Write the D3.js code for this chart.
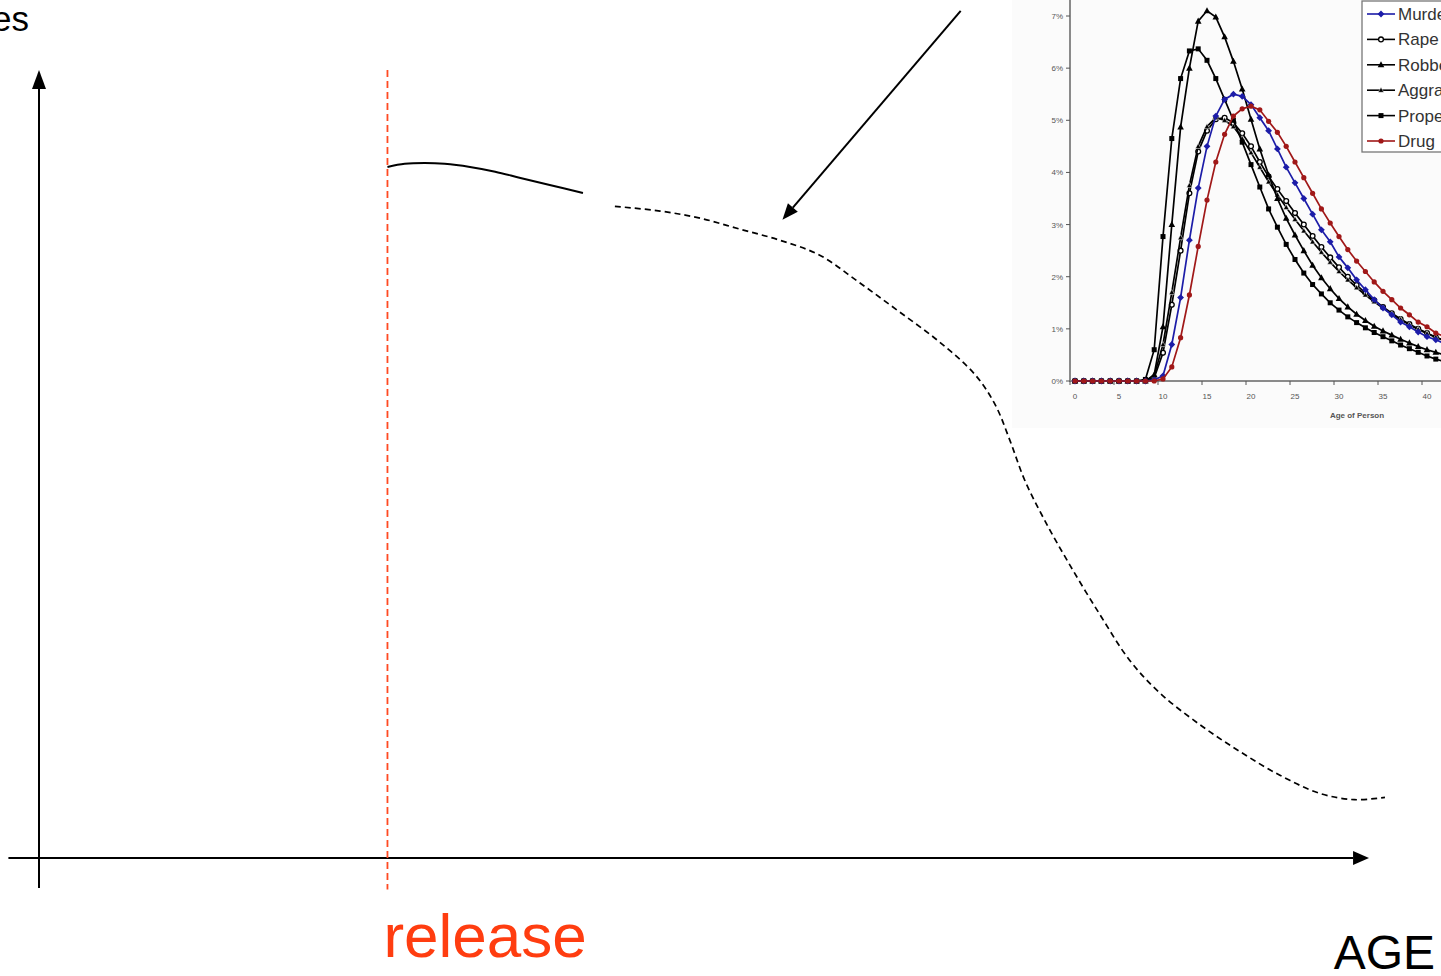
<!DOCTYPE html>
<html><head><meta charset="utf-8">
<script src="https://cdn.jsdelivr.net/npm/d3@7"></script>
<style>html,body{margin:0;padding:0;background:#fff;overflow:hidden}svg{display:block}</style>
</head><body>
<svg id="c" width="1441" height="976"></svg>
<script>
// ---------- main (conceptual) chart data, abstract units 0..100 ----------
const releaseAge = 26.2;
const inPrisonX = [26.2, 27.5, 29.0, 30.5, 32.4, 34.3, 36.2, 38.4, 40.9];
const inPrisonY = [87.7, 88.1, 88.2, 88.1, 87.7, 87.1, 86.3, 85.4, 84.4];
const afterX = [43.3, 46.7, 49.7, 52.7, 55.7, 58.7, 61.7, 64.7, 67.7, 70.4, 71.9, 73.0, 74.1, 75.6, 77.5, 79.8, 82.0, 84.3, 87.3, 90.3, 93.3, 96.3, 98.9, 101.2];
const afterY = [82.7, 82.1, 81.2, 79.8, 78.4, 76.5, 73.0, 69.3, 65.5, 61.3, 57.5, 53.0, 48.0, 42.9, 37.2, 30.8, 25.1, 20.9, 16.9, 13.5, 10.5, 8.2, 7.4, 7.7];
const pointerFrom = [69.3, 107.5];
const pointerTo = [55.9, 81.0];

// ---------- inset chart data (share of arrests by age, %) ----------
const ages = [0,1,2,3,4,5,6,7,8,9,10,11,12,13,14,15,16,17,18,19,20,21,22,23,24,25,26,27,28,29,30,31,32,33,34,35,36,37,38,39,40,41,42];
const murder = [0,0,0,0,0,0,0,0,0,0.02,0.1,0.7,1.6,2.7,3.7,4.5,5.08,5.4,5.5,5.46,5.3,5.05,4.8,4.45,4.1,3.8,3.5,3.2,2.9,2.67,2.38,2.17,1.94,1.75,1.56,1.4,1.27,1.13,1.04,0.94,0.85,0.79,0.72];
const rape = [0,0,0,0,0,0,0,0,0,0.06,0.54,1.46,2.5,3.6,4.4,4.8,5.02,5.05,4.95,4.75,4.5,4.2,3.92,3.68,3.45,3.22,3.0,2.78,2.57,2.37,2.18,2.0,1.84,1.69,1.55,1.42,1.3,1.19,1.09,1.0,0.92,0.84,0.77];
const robbery = [0,0,0,0,0,0,0,0,0,0.12,1.04,3.0,4.87,6.0,6.9,7.1,6.98,6.6,6.13,5.6,5.02,4.45,3.95,3.5,3.12,2.8,2.5,2.22,1.98,1.77,1.58,1.42,1.28,1.16,1.05,0.96,0.88,0.8,0.73,0.66,0.6,0.55,0.5];
const aggravated = [0,0,0,0,0,0,0,0,0,0.1,0.7,1.7,2.75,3.75,4.5,4.88,5.05,5.0,4.88,4.65,4.38,4.1,3.82,3.57,3.33,3.1,2.88,2.67,2.47,2.28,2.1,1.94,1.79,1.65,1.52,1.4,1.28,1.18,1.08,0.99,0.91,0.84,0.78];
const property = [0,0,0,0,0,0,0,0,0.03,0.6,2.77,4.65,5.8,6.33,6.37,6.15,5.8,5.4,5.0,4.58,4.15,3.72,3.3,2.95,2.62,2.33,2.07,1.85,1.67,1.5,1.36,1.23,1.12,1.02,0.93,0.85,0.77,0.69,0.62,0.55,0.48,0.42,0.37];
const drug = [0,0,0,0,0,0,0,0,0,0,0.04,0.27,0.83,1.65,2.58,3.47,4.2,4.73,5.08,5.22,5.27,5.2,4.98,4.77,4.5,4.2,3.9,3.6,3.3,3.03,2.77,2.52,2.3,2.1,1.9,1.72,1.56,1.4,1.27,1.13,1.04,0.92,0.85];
const seriesNames = ["Murder", "Rape", "Robbery", "Aggravated Assault", "Property", "Drug"];
const yTicks = [0,1,2,3,4,5,6,7];
const yTickLabels = ["0%","1%","2%","3%","4%","5%","6%","7%"];
const xTicks = [0,5,10,15,20,25,30,35,40];

const svg = d3.select("#c");

// ---------------- main chart ----------------
const xM = d3.scaleLinear().domain([0, 100]).range([39, 1369]);
const yM = d3.scaleLinear().domain([0, 100]).range([858, 70]);

// title fragment (the word runs off the left edge, as in the source)
svg.append("text").attr("x", 29).attr("y", 31).attr("text-anchor", "end")
  .attr("font-family", "Liberation Sans, Arial, sans-serif").attr("font-size", 35).attr("fill", "#000").text("es");

// inset background
svg.append("rect").attr("x", 1012).attr("y", 0).attr("width", 429).attr("height", 428).attr("fill", "#fbfbfb");

// axes with arrows
const ax = svg.append("g").attr("stroke", "#000").attr("fill", "#000");
ax.append("line").attr("x1", xM(0)).attr("x2", xM(0)).attr("y1", yM(-3.8)).attr("y2", yM(98)).attr("stroke-width", 2);
ax.append("path").attr("stroke", "none").attr("d", `M${xM(0)},${yM(100)} L${xM(0)-7},${yM(97.6)} L${xM(0)+7},${yM(97.6)} Z`);
ax.append("line").attr("x1", xM(-2.3)).attr("x2", xM(98.8)).attr("y1", yM(0)).attr("y2", yM(0)).attr("stroke-width", 2);
ax.append("path").attr("stroke", "none").attr("d", `M${xM(100)},${yM(0)} L${xM(98.8)},${yM(0)-7} L${xM(98.8)},${yM(0)+7} Z`);

// release line
svg.append("line").attr("x1", xM(releaseAge)).attr("x2", xM(releaseAge)).attr("y1", yM(100)).attr("y2", yM(-4))
  .attr("stroke", "#ff4a22").attr("stroke-width", 1.8).attr("stroke-dasharray", "7,4");
svg.append("text").attr("x", xM(releaseAge) - 4).attr("y", 957)
  .attr("font-family", "Liberation Sans, Arial, sans-serif").attr("font-size", 62).attr("fill", "#ff3d10").text("release");
svg.append("text").attr("x", 1435).attr("y", 969).attr("text-anchor", "end")
  .attr("font-family", "Liberation Sans, Arial, sans-serif").attr("font-size", 48).attr("fill", "#000").text("AGE");

const lineM = d3.line().x(d => xM(d[0])).y(d => yM(d[1])).curve(d3.curveCatmullRom.alpha(0.5));
svg.append("path").attr("d", lineM(inPrisonX.map((x, i) => [x, inPrisonY[i]])))
  .attr("fill", "none").attr("stroke", "#000").attr("stroke-width", 2);
svg.append("path").attr("d", lineM(afterX.map((x, i) => [x, afterY[i]])))
  .attr("fill", "none").attr("stroke", "#000").attr("stroke-width", 1.7).attr("stroke-dasharray", "6,4");

// pointer arrow
{
  const x1 = xM(pointerFrom[0]), y1 = yM(pointerFrom[1]), x2 = xM(pointerTo[0]), y2 = yM(pointerTo[1]);
  const ang = Math.atan2(y2 - y1, x2 - x1), L = 16, W = 6.5;
  const bx = x2 - L * Math.cos(ang), by = y2 - L * Math.sin(ang);
  svg.append("line").attr("x1", x1).attr("y1", y1).attr("x2", bx).attr("y2", by).attr("stroke", "#000").attr("stroke-width", 2);
  svg.append("path").attr("fill", "#000").attr("d",
    `M${x2},${y2} L${bx + W*Math.sin(ang)},${by - W*Math.cos(ang)} L${bx - W*Math.sin(ang)},${by + W*Math.cos(ang)} Z`);
}

// ---------------- inset chart ----------------
const xI = d3.scaleLinear().domain([0, 40]).range([1075, 1427]);
const yI = d3.scaleLinear().domain([0, 7]).range([381, 16]);
const g = svg.append("g");
const fontI = "Liberation Sans, Arial, sans-serif";

// axes
g.append("line").attr("x1", 1070).attr("x2", 1070).attr("y1", 0).attr("y2", yI(0)).attr("stroke", "#8a8a8a").attr("stroke-width", 2);
g.append("line").attr("x1", 1069).attr("x2", 1441).attr("y1", yI(0)).attr("y2", yI(0)).attr("stroke", "#8a8a8a").attr("stroke-width", 2);
yTicks.forEach((t, i) => {
  g.append("line").attr("x1", 1066).attr("x2", 1070).attr("y1", yI(t)).attr("y2", yI(t)).attr("stroke", "#555");
  g.append("text").attr("x", 1063).attr("y", yI(t) + 3).attr("text-anchor", "end")
    .attr("font-family", fontI).attr("font-size", 8).attr("fill", "#555").text(yTickLabels[i]);
});
xTicks.forEach(t => {
  g.append("line").attr("x1", xI(t) - 5).attr("x2", xI(t) - 5).attr("y1", yI(0)).attr("y2", yI(0) + 4).attr("stroke", "#555");
  g.append("text").attr("x", xI(t)).attr("y", 399).attr("text-anchor", "middle")
    .attr("font-family", fontI).attr("font-size", 8).attr("fill", "#555").text(t);
});
g.append("text").attr("x", 1357).attr("y", 418).attr("text-anchor", "middle")
  .attr("font-family", fontI).attr("font-size", 8).attr("font-weight", "bold").attr("fill", "#555").text("Age of Person");

const seriesVals = [murder, rape, robbery, aggravated, property, drug];
const colors = ["#1c1ca8", "#000", "#000", "#000", "#000", "#a01818"];
const shapes = ["diamond", "circleOpen", "triangle", "triangleSmall", "square", "circle"];
function marker(sel, shape, color, x, y) {
  if (shape === "diamond") sel.append("path").attr("d", `M${x},${y-3.4}L${x+3.4},${y}L${x},${y+3.4}L${x-3.4},${y}Z`).attr("fill", color);
  else if (shape === "circleOpen") sel.append("circle").attr("cx", x).attr("cy", y).attr("r", 2.4).attr("fill", "#fff").attr("stroke", color).attr("stroke-width", 1.3);
  else if (shape === "triangle") sel.append("path").attr("d", `M${x},${y-3.6}L${x+3.3},${y+2.5}L${x-3.3},${y+2.5}Z`).attr("fill", color);
  else if (shape === "triangleSmall") sel.append("path").attr("d", `M${x},${y-3}L${x+2.8},${y+2.1}L${x-2.8},${y+2.1}Z`).attr("fill", color).attr("stroke", "#fff").attr("stroke-width", 0.5);
  else if (shape === "square") sel.append("rect").attr("x", x-2.5).attr("y", y-2.5).attr("width", 5).attr("height", 5).attr("fill", color);
  else sel.append("circle").attr("cx", x).attr("cy", y).attr("r", 2.6).attr("fill", color);
}
const lineI = d3.line().x((d, i) => xI(ages[i])).y(d => yI(d));
const order = [1, 3, 2, 4, 0, 5];
order.forEach(s => {
  const sg = g.append("g");
  sg.append("path").attr("d", lineI(seriesVals[s])).attr("fill", "none").attr("stroke", colors[s]).attr("stroke-width", 1.7);
  seriesVals[s].forEach((v, i) => marker(sg, shapes[s], colors[s], xI(ages[i]), yI(v)));
});

// legend (runs off the right edge, as in the source)
const lg = g.append("g");
lg.append("rect").attr("x", 1362).attr("y", 1).attr("width", 120).attr("height", 151).attr("fill", "#fff").attr("stroke", "#777").attr("stroke-width", 1.3);
seriesNames.forEach((n, i) => {
  const y = 14 + i * 25.4;
  lg.append("line").attr("x1", 1367).attr("x2", 1395).attr("y1", y).attr("y2", y).attr("stroke", colors[i]).attr("stroke-width", 1.6);
  marker(lg, shapes[i], colors[i], 1381, y);
  lg.append("text").attr("x", 1398).attr("y", y + 6).attr("font-family", fontI).attr("font-size", 17).attr("fill", "#333").text(n);
});
</script>
</body></html>
